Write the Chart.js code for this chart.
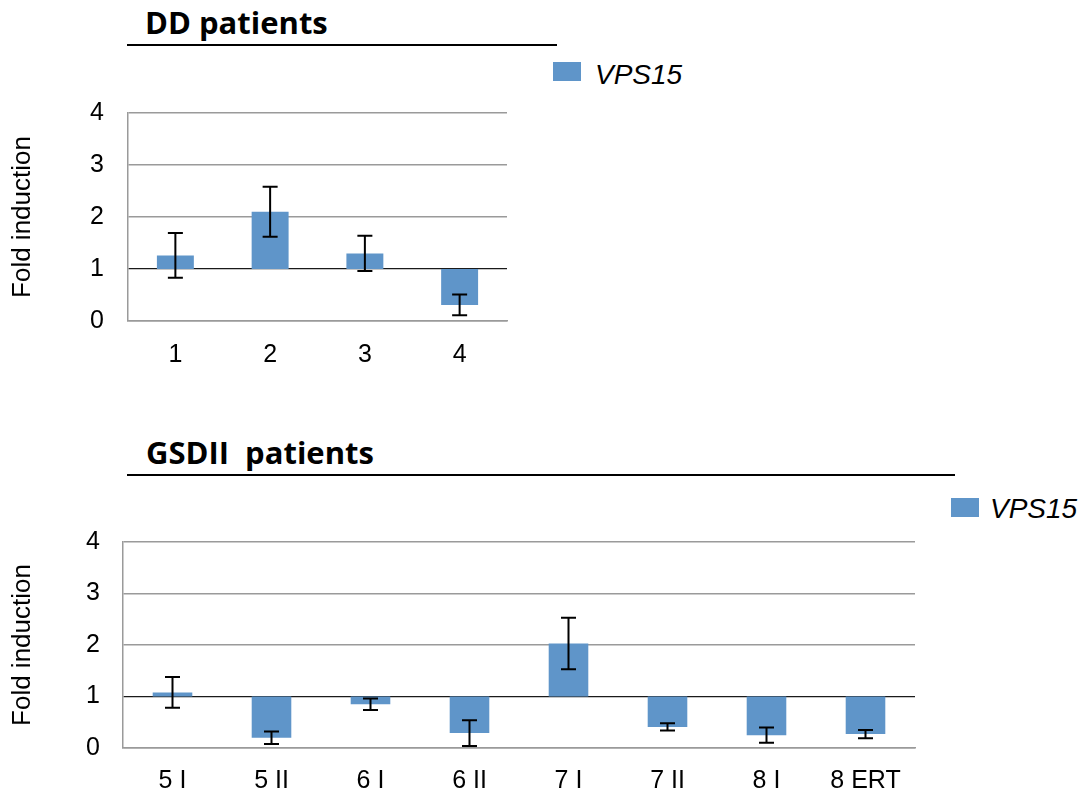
<!DOCTYPE html>
<html>
<head>
<meta charset="utf-8">
<script src="https://cdn.jsdelivr.net/npm/chart.js@4.4.0/dist/chart.umd.min.js"></script>
<style>
  body { margin: 0; background: #fff; width: 1087px; height: 796px; position: relative; overflow: hidden; font-family: "Liberation Sans", Arial, sans-serif; }
  .title { position: absolute; font-family: "Open Sans", Lato, sans-serif; font-weight: bold; font-size: 31px; line-height: 31px; white-space: pre; color: #000; }
  .rule { position: absolute; height: 2px; background: #000; }
  .key { position: absolute; width: 28px; height: 19px; background: #5F95C9; }
  .keytext { position: absolute; font-style: italic; font-size: 28px; line-height: 28px; color: #000; }
  canvas { position: absolute; }
</style>
</head>
<body>
<div class="title" style="left:145px; top:7px;">DD patients</div>
<div class="rule" style="left:127px; top:44px; width:430px;"></div>
<div class="key" style="left:553px; top:62px;"></div>
<div class="keytext" id="key1" style="left:595px; top:61px;"></div>
<canvas id="ddChart" width="540" height="311" style="left:0; top:74px;"></canvas>

<div class="title" style="left:146px; top:437px;">GSDII  patients</div>
<div class="rule" style="left:127px; top:474px; width:828px;"></div>
<div class="key" style="left:951px; top:498px;"></div>
<div class="keytext" id="key2" style="left:990px; top:495px;"></div>
<canvas id="gsdChart" width="960" height="292" style="left:0; top:504px;"></canvas>

<script>
const seriesName = 'VPS15';
const baseLine = 1;
const yMin = 0;
const yMax = 4;

const ddLabels = ['1', '2', '3', '4'];
const ddValues = [1.26, 2.10, 1.30, 0.31];
const ddErrors = [0.43, 0.48, 0.34, 0.20];

const gsdLabels = ['5 I', '5 II', '6 I', '6 II', '7 I', '7 II', '8 I', '8 ERT'];
const gsdValues = [1.08, 0.20, 0.85, 0.29, 2.03, 0.41, 0.25, 0.27];
const gsdErrors = [0.30, 0.12, 0.11, 0.25, 0.50, 0.07, 0.15, 0.08];

document.getElementById('key1').textContent = seriesName;
document.getElementById('key2').textContent = seriesName;

const errorBars = {
    id: 'errorBars',
    afterDatasetsDraw(chart, args, opts) {
        const { ctx, scales: { y } } = chart;
        const meta = chart.getDatasetMeta(0);
        ctx.save();
        ctx.strokeStyle = '#000';
        ctx.lineWidth = 2;
        meta.data.forEach((bar, i) => {
            const hi = y.getPixelForValue(opts.values[i] + opts.errors[i]);
            const lo = y.getPixelForValue(opts.values[i] - opts.errors[i]);
            const x = bar.x;
            ctx.beginPath();
            ctx.moveTo(x, hi); ctx.lineTo(x, lo);
            ctx.moveTo(x - 7.5, hi); ctx.lineTo(x + 7.5, hi);
            ctx.moveTo(x - 7.5, lo); ctx.lineTo(x + 7.5, lo);
            ctx.stroke();
        });
        ctx.restore();
    }
};

function makeChart(id, labels, values, errors, cfg) {
    const ctx = document.getElementById(id).getContext('2d');
    return new Chart(ctx, {
        type: 'bar',
        data: {
            labels: labels,
            datasets: [{
                label: seriesName,
                data: values.map(v => [baseLine, v]),
                backgroundColor: '#5F95C9',
                borderWidth: 0,
                categoryPercentage: 1,
                barPercentage: cfg.barPct
            }]
        },
        options: {
            responsive: false,
            animation: false,
            layout: { padding: { top: cfg.padTop, right: cfg.padRight, left: 0, bottom: 0 } },
            plugins: {
                legend: { display: false },
                tooltip: { enabled: false },
                errorBars: { values: values, errors: errors }
            },
            scales: {
                x: {
                    grid: { display: false, drawTicks: false },
                    border: { display: true, color: '#9a9a9a', width: 1.5 },
                    ticks: { color: '#000', padding: cfg.xPad, font: { family: '"Liberation Sans", Arial', size: 25 }, maxRotation: 0 },
                    afterFit: s => { s.height = cfg.xHeight; }
                },
                y: {
                    min: yMin,
                    max: yMax,
                    ticks: { stepSize: 1, color: '#000', padding: cfg.yPad, font: { family: '"Liberation Sans", Arial', size: 25 } },
                    grid: {
                        drawTicks: false,
                        color: c => c.tick.value === baseLine ? '#1a1a1a' : '#9a9a9a',
                        lineWidth: c => c.tick.value === baseLine ? 1.3 : 1.5
                    },
                    border: { display: true, color: '#9a9a9a', width: 1.5 },
                    title: {
                        display: true,
                        text: 'Fold induction',
                        color: '#000',
                        font: { family: '"Liberation Sans", Arial', size: 26 },
                        padding: { top: 7, bottom: 0 }
                    },
                    afterFit: s => { s.width = cfg.yWidth; }
                }
            }
        },
        plugins: [errorBars]
    });
}

makeChart('ddChart', ddLabels, ddValues, ddErrors, {
    barPct: 0.39, padTop: 17, padRight: 33, xHeight: 64, yWidth: 128, yPad: 24, xPad: 19
});
makeChart('gsdChart', gsdLabels, gsdValues, gsdErrors, {
    barPct: 0.40, padTop: 16, padRight: 45, xHeight: 48, yWidth: 123, yPad: 23, xPad: 18
});
</script>
</body>
</html>
